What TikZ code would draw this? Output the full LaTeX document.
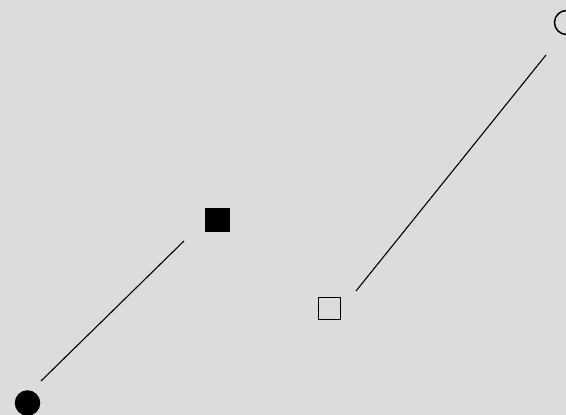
\documentclass[tikz,border=0pt]{standalone}
\begin{document}
\begin{tikzpicture}[x=1pt,y=-1pt,
  conn/.style={draw=black,line width=1.1pt},
  shp/.style={draw=black,line width=1.5pt,inner sep=0pt,outer sep=0pt}]
\fill[fill={rgb,255:red,220;green,220;blue,220}] (0,0) rectangle (566,415);
\useasboundingbox (0,0) rectangle (566,415);
\node[shp,circle,fill=black,minimum size=24pt] (c1) at (27.5,403) {};
\node[shp,rectangle,fill=black,minimum size=23pt] (s1) at (217.5,220) {};
\node[shp,rectangle,minimum size=22pt] (s2) at (329.5,308.3) {};
\node[shp,circle,minimum size=24pt] (c2) at (566.5,22.5) {};
\coordinate (a1) at (41,381);
\coordinate (b1) at (184,241);
\coordinate (a2) at (356,291);
\coordinate (b2) at (546,55);
\draw[conn] (a1) -- (b1);
\draw[conn] (a2) -- (b2);
\end{tikzpicture}
\end{document}
